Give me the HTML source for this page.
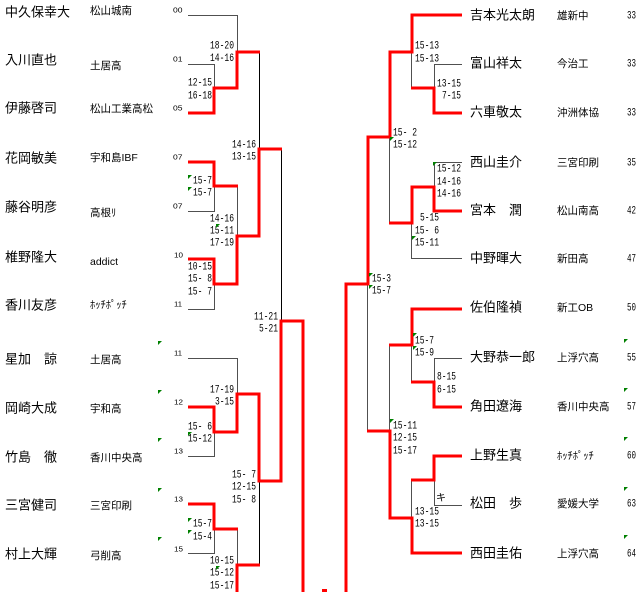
<!DOCTYPE html>
<html><head><meta charset="utf-8"><style>
html,body{margin:0;padding:0;background:#fff;}
svg{display:block;}
.n{font-family:"Liberation Sans","Noto Sans CJK JP",sans-serif;font-size:13px;fill:#000}
.a{font-family:"Liberation Sans","Noto Sans CJK JP",sans-serif;font-size:10.5px;fill:#000}
.s{font-family:"Liberation Mono",monospace;font-size:11px;fill:#000}
.k{font-family:"Liberation Sans",sans-serif;font-size:7px;fill:#000}
.t{fill:none;stroke:#505050;stroke-width:1}
.b{fill:none;stroke:#000;stroke-width:1}
.r{fill:none;stroke:#ff0000;stroke-width:3;stroke-linejoin:miter}
.g{fill:#008000}
</style></head><body>
<svg width="640" height="592" viewBox="0 0 640 592" xmlns="http://www.w3.org/2000/svg">
<!-- thin lines left -->
<path class="t" d="M188 15.5H237.5V52"/>
<path class="t" d="M188 64.5H214.5V88"/>
<path class="t" d="M237.5 186V236"/>
<path class="t" d="M188 211.5H214.5V186"/>
<path class="t" d="M188 309.5H214.5V284"/>
<path class="b" d="M259.5 52V149"/>
<path class="b" d="M281.5 149V321"/>
<path class="t" d="M188 358.5H237.5V394"/>
<path class="t" d="M188 456.5H214.5V432"/>
<path class="b" d="M259.5 481V565"/>
<path class="t" d="M188 553.5H214.5V529"/>
<path class="t" d="M237.5 529V565"/>
<!-- thin lines right -->
<path class="t" d="M462 64.5H434.5V88"/>
<path class="t" d="M411.5 52V88"/>
<path class="t" d="M462 162.5H434.5V187"/>
<path class="t" d="M389.5 137V223"/>
<path class="t" d="M462 258.5H411.5V223"/>
<path class="t" d="M367.5 284V431"/>
<path class="t" d="M462 358.5H434.5V382"/>
<path class="t" d="M411.5 345V382"/>
<path class="t" d="M389.5 345V431"/>
<path class="t" d="M462 505.5H434.5V480"/>
<path class="t" d="M411.5 480V518"/>
<!-- red left -->
<path class="r" d="M188 113H214V88H237V52H260"/>
<path class="r" d="M188 162H214V186H238"/>
<path class="r" d="M188 259H214V284H237V236H259V149H282"/>
<path class="r" d="M188 407H214V432H237V394H259V481H281V321H303V592"/>
<path class="r" d="M188 504H214V529H238"/>
<path class="r" d="M237 592V565H260"/>
<!-- red right -->
<path class="r" d="M462 113H434V88H411"/>
<path class="r" d="M462 15H412V52H390V137H368V284H346V592"/>
<path class="r" d="M462 211H434V187H412V223H389"/>
<path class="r" d="M462 309H412V345H389"/>
<path class="r" d="M462 407H434V382H411"/>
<path class="r" d="M462 553H412V518H390V431H367"/>
<path class="r" d="M462 456H434V480H411"/>
<rect x="322" y="589" width="5" height="3" fill="#ff0000"/>

<!-- left names -->
<text class="n" x="5" y="16.5">中久保幸大</text>
<text class="n" x="5" y="64.5">入川直也</text>
<text class="n" x="5" y="112.5">伊藤啓司</text>
<text class="n" x="5" y="162.5">花岡敏美</text>
<text class="n" x="5" y="211.5">藤谷明彦</text>
<text class="n" x="5" y="261.5">椎野隆大</text>
<text class="n" x="5" y="309.5">香川友彦</text>
<text class="n" x="5" y="363.5">星加　諒</text>
<text class="n" x="5" y="412.5">岡崎大成</text>
<text class="n" x="5" y="461.5">竹島　徹</text>
<text class="n" x="5" y="509.5">三宮健司</text>
<text class="n" x="5" y="558.5">村上大輝</text>
<!-- left affiliations -->
<text class="a" x="90" y="14">松山城南</text>
<text class="a" x="90" y="69">土居高</text>
<text class="a" x="90" y="112">松山工業高松</text>
<text class="a" x="90" y="161">宇和島IBF</text>
<text class="a" x="90" y="216">高根ﾘ</text>
<text class="a" x="90" y="265">addict</text>
<text class="a" x="90" y="308">ﾎｯﾁﾎﾟｯﾁ</text>
<text class="a" x="90" y="363">土居高</text>
<text class="a" x="90" y="412">宇和高</text>
<text class="a" x="90" y="461">香川中央高</text>
<text class="a" x="90" y="509">三宮印刷</text>
<text class="a" x="90" y="559">弓削高</text>
<!-- seeds -->
<text class="k" x="173" y="12.5" textLength="9.5" lengthAdjust="spacingAndGlyphs">00</text>
<text class="k" x="173" y="61.5" textLength="9.5" lengthAdjust="spacingAndGlyphs">01</text>
<text class="k" x="173" y="110.5" textLength="9.5" lengthAdjust="spacingAndGlyphs">05</text>
<text class="k" x="173" y="159.5" textLength="9.5" lengthAdjust="spacingAndGlyphs">07</text>
<text class="k" x="173" y="208.5" textLength="9.5" lengthAdjust="spacingAndGlyphs">07</text>
<text class="k" x="174" y="257.5" textLength="9" lengthAdjust="spacingAndGlyphs">10</text>
<text class="k" x="174" y="306.5" textLength="8" lengthAdjust="spacingAndGlyphs">11</text>
<text class="k" x="174" y="355.5" textLength="8" lengthAdjust="spacingAndGlyphs">11</text>
<text class="k" x="174" y="404.5" textLength="9" lengthAdjust="spacingAndGlyphs">12</text>
<text class="k" x="174" y="453.5" textLength="9" lengthAdjust="spacingAndGlyphs">13</text>
<text class="k" x="174" y="501.5" textLength="9" lengthAdjust="spacingAndGlyphs">13</text>
<text class="k" x="174" y="551.5" textLength="9" lengthAdjust="spacingAndGlyphs">15</text>

<!-- left scores -->
<g class="s">
<text x="210" y="48.5" textLength="24" lengthAdjust="spacingAndGlyphs">18-20</text>
<text x="210" y="61" textLength="24" lengthAdjust="spacingAndGlyphs">14-16</text>
<text x="188" y="85.5" textLength="24" lengthAdjust="spacingAndGlyphs">12-15</text>
<text x="188" y="98.5" textLength="24" lengthAdjust="spacingAndGlyphs">16-18</text>
<text x="232" y="147.5" textLength="24" lengthAdjust="spacingAndGlyphs">14-16</text>
<text x="232" y="159.5" textLength="24" lengthAdjust="spacingAndGlyphs">13-15</text>
<text x="193" y="183.5" textLength="19" lengthAdjust="spacingAndGlyphs">15-7</text>
<text x="193" y="195.5" textLength="19" lengthAdjust="spacingAndGlyphs">15-7</text>
<text x="210" y="221.5" textLength="24" lengthAdjust="spacingAndGlyphs">14-16</text>
<text x="210" y="233.5" textLength="24" lengthAdjust="spacingAndGlyphs">15-11</text>
<text x="210" y="245.5" textLength="24" lengthAdjust="spacingAndGlyphs">17-19</text>
<text x="188" y="269.5" textLength="24" lengthAdjust="spacingAndGlyphs">10-15</text>
<text x="188" y="281.5" textLength="24" lengthAdjust="spacingAndGlyphs">15-&#160;8</text>
<text x="188" y="294.5" textLength="24" lengthAdjust="spacingAndGlyphs">15-&#160;7</text>
<text x="254" y="319.5" textLength="24" lengthAdjust="spacingAndGlyphs">11-21</text>
<text x="259" y="331.5" textLength="19" lengthAdjust="spacingAndGlyphs">5-21</text>
<text x="210" y="392.5" textLength="24" lengthAdjust="spacingAndGlyphs">17-19</text>
<text x="215" y="404.5" textLength="19" lengthAdjust="spacingAndGlyphs">3-15</text>
<text x="188" y="429.5" textLength="24" lengthAdjust="spacingAndGlyphs">15-&#160;6</text>
<text x="188" y="441.5" textLength="24" lengthAdjust="spacingAndGlyphs">15-12</text>
<text x="232" y="477.5" textLength="24" lengthAdjust="spacingAndGlyphs">15-&#160;7</text>
<text x="232" y="489.5" textLength="24" lengthAdjust="spacingAndGlyphs">12-15</text>
<text x="232" y="502.5" textLength="24" lengthAdjust="spacingAndGlyphs">15-&#160;8</text>
<text x="193" y="526.5" textLength="19" lengthAdjust="spacingAndGlyphs">15-7</text>
<text x="193" y="539.5" textLength="19" lengthAdjust="spacingAndGlyphs">15-4</text>
<text x="210" y="563.5" textLength="24" lengthAdjust="spacingAndGlyphs">10-15</text>
<text x="210" y="575.5" textLength="24" lengthAdjust="spacingAndGlyphs">15-12</text>
<text x="210" y="588.5" textLength="24" lengthAdjust="spacingAndGlyphs">15-17</text>
<!-- right scores -->
<text x="415" y="48.5" textLength="24" lengthAdjust="spacingAndGlyphs">15-13</text>
<text x="415" y="61.5" textLength="24" lengthAdjust="spacingAndGlyphs">15-13</text>
<text x="437" y="86.5" textLength="24" lengthAdjust="spacingAndGlyphs">13-15</text>
<text x="442" y="98.5" textLength="19" lengthAdjust="spacingAndGlyphs">7-15</text>
<text x="393" y="135.5" textLength="24" lengthAdjust="spacingAndGlyphs">15-&#160;2</text>
<text x="393" y="147.5" textLength="24" lengthAdjust="spacingAndGlyphs">15-12</text>
<text x="437" y="171.5" textLength="24" lengthAdjust="spacingAndGlyphs">15-12</text>
<text x="437" y="184.5" textLength="24" lengthAdjust="spacingAndGlyphs">14-16</text>
<text x="437" y="196.5" textLength="24" lengthAdjust="spacingAndGlyphs">14-16</text>
<text x="420" y="220.5" textLength="19" lengthAdjust="spacingAndGlyphs">5-15</text>
<text x="415" y="233.5" textLength="24" lengthAdjust="spacingAndGlyphs">15-&#160;6</text>
<text x="415" y="245.5" textLength="24" lengthAdjust="spacingAndGlyphs">15-11</text>
<text x="372" y="281.5" textLength="19" lengthAdjust="spacingAndGlyphs">15-3</text>
<text x="372" y="293.5" textLength="19" lengthAdjust="spacingAndGlyphs">15-7</text>
<text x="415" y="343.5" textLength="19" lengthAdjust="spacingAndGlyphs">15-7</text>
<text x="415" y="355.5" textLength="19" lengthAdjust="spacingAndGlyphs">15-9</text>
<text x="437" y="379.5" textLength="19" lengthAdjust="spacingAndGlyphs">8-15</text>
<text x="437" y="392.5" textLength="19" lengthAdjust="spacingAndGlyphs">6-15</text>
<text x="393" y="428.5" textLength="24" lengthAdjust="spacingAndGlyphs">15-11</text>
<text x="393" y="440.5" textLength="24" lengthAdjust="spacingAndGlyphs">12-15</text>
<text x="393" y="453.5" textLength="24" lengthAdjust="spacingAndGlyphs">15-17</text>
<text x="415" y="514.5" textLength="24" lengthAdjust="spacingAndGlyphs">13-15</text>
<text x="415" y="526.5" textLength="24" lengthAdjust="spacingAndGlyphs">13-15</text>
<!-- right numbers -->
<text x="627" y="18.5" textLength="9" lengthAdjust="spacingAndGlyphs">33</text>
<text x="627" y="66.5" textLength="9" lengthAdjust="spacingAndGlyphs">33</text>
<text x="627" y="115.5" textLength="9" lengthAdjust="spacingAndGlyphs">33</text>
<text x="627" y="165.5" textLength="9" lengthAdjust="spacingAndGlyphs">35</text>
<text x="627" y="213.5" textLength="9" lengthAdjust="spacingAndGlyphs">42</text>
<text x="627" y="261.5" textLength="9" lengthAdjust="spacingAndGlyphs">47</text>
<text x="627" y="310.5" textLength="9" lengthAdjust="spacingAndGlyphs">50</text>
<text x="627" y="360.5" textLength="9" lengthAdjust="spacingAndGlyphs">55</text>
<text x="627" y="409.5" textLength="9" lengthAdjust="spacingAndGlyphs">57</text>
<text x="627" y="458.5" textLength="9" lengthAdjust="spacingAndGlyphs">60</text>
<text x="627" y="506.5" textLength="9" lengthAdjust="spacingAndGlyphs">63</text>
<text x="627" y="556.5" textLength="9" lengthAdjust="spacingAndGlyphs">64</text>
</g>
<text class="a" x="436" y="501" style="font-size:10px">キ</text>

<!-- right names -->
<text class="n" x="470" y="19.5">吉本光太朗</text>
<text class="n" x="470" y="67.5">富山祥太</text>
<text class="n" x="470" y="116.5">六車敬太</text>
<text class="n" x="470" y="166.5">西山圭介</text>
<text class="n" x="470" y="214.5">宮本　潤</text>
<text class="n" x="470" y="262.5">中野暉大</text>
<text class="n" x="470" y="311.5">佐伯隆禎</text>
<text class="n" x="470" y="361.5">大野恭一郎</text>
<text class="n" x="470" y="410.5">角田遼海</text>
<text class="n" x="470" y="459.5">上野生真</text>
<text class="n" x="470" y="507.5">松田　歩</text>
<text class="n" x="470" y="557.5">西田圭佑</text>
<!-- right affiliations -->
<text class="a" x="557" y="19">雄新中</text>
<text class="a" x="557" y="67">今治工</text>
<text class="a" x="557" y="116">沖洲体協</text>
<text class="a" x="557" y="166">三宮印刷</text>
<text class="a" x="557" y="214">松山南高</text>
<text class="a" x="557" y="262">新田高</text>
<text class="a" x="557" y="311">新工OB</text>
<text class="a" x="557" y="361">上浮穴高</text>
<text class="a" x="557" y="410">香川中央高</text>
<text class="a" x="557" y="459">ﾎｯﾁﾎﾟｯﾁ</text>
<text class="a" x="557" y="507">愛媛大学</text>
<text class="a" x="557" y="557">上浮穴高</text>

<!-- green marks -->
<g class="g">
<polygon points="188,175 192,175 188,179"/>
<polygon points="188,187 192,187 188,191"/>
<polygon points="216,224 220,224 216,228"/>
<polygon points="188,432 192,432 188,436"/>
<polygon points="188,518 192,518 188,522"/>
<polygon points="188,530 192,530 188,534"/>
<polygon points="216,566 220,566 216,570"/>
<polygon points="158,341 162,341 158,345"/>
<polygon points="158,390 162,390 158,394"/>
<polygon points="158,438 162,438 158,442"/>
<polygon points="158,488 162,488 158,492"/>
<polygon points="158,537 162,537 158,541"/>
<polygon points="390,137 394,137 390,141"/>
<polygon points="433,162 437,162 433,166"/>
<polygon points="412,236 416,236 412,240"/>
<polygon points="369,273 373,273 369,277"/>
<polygon points="369,285 373,285 369,289"/>
<polygon points="413,333 417,333 413,337"/>
<polygon points="413,346 417,346 413,350"/>
<polygon points="390,419 394,419 390,423"/>
<polygon points="624,339 628,339 624,343"/>
<polygon points="624,388 628,388 624,392"/>
<polygon points="624,437 628,437 624,441"/>
<polygon points="624,487 628,487 624,491"/>
<polygon points="624,535 628,535 624,539"/>
</g>
</svg>
</body></html>
